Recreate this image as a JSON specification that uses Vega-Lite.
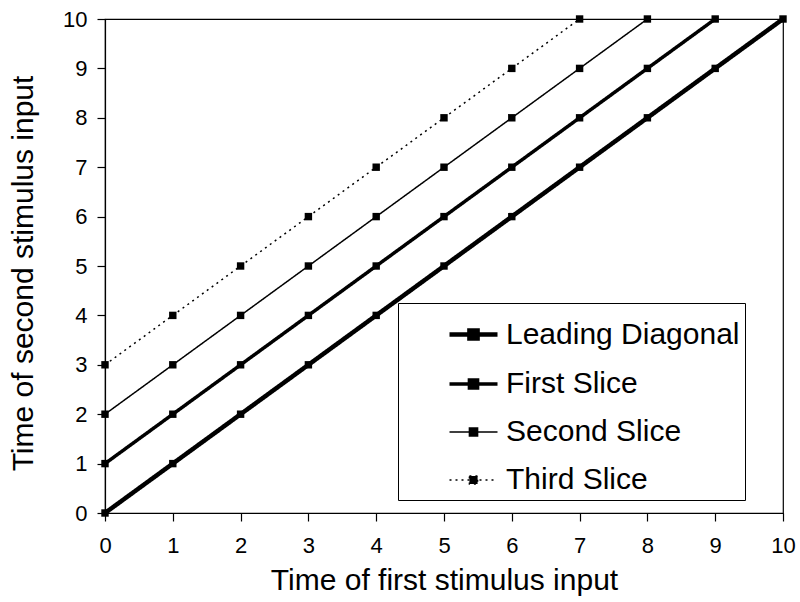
{
  "$schema": "https://vega.github.io/schema/vega-lite/v6.json",
  "width": 678,
  "height": 494,
  "autosize": "none",
  "padding": {"left": 105, "top": 19, "right": 17, "bottom": 89},
  "background": "white",
  "config": {
    "font": "Liberation Sans",
    "view": {"stroke": "black", "strokeWidth": 1.2},
    "axis": {
      "grid": false,
      "domainColor": "black",
      "domainWidth": 1.2,
      "tickColor": "black",
      "tickWidth": 1.2,
      "tickSize": 8,
      "labelColor": "black",
      "titleColor": "black",
      "labelFontSize": 22,
      "titleFontSize": 30,
      "titleFontWeight": "normal",
      "labelFont": "Liberation Sans",
      "titleFont": "Liberation Sans",
      "labelOverlap": false
    }
  },
  "data": {
    "values": [
      {"series": "Leading Diagonal", "x": 0, "y": 0},
      {"series": "Leading Diagonal", "x": 1, "y": 1},
      {"series": "Leading Diagonal", "x": 2, "y": 2},
      {"series": "Leading Diagonal", "x": 3, "y": 3},
      {"series": "Leading Diagonal", "x": 4, "y": 4},
      {"series": "Leading Diagonal", "x": 5, "y": 5},
      {"series": "Leading Diagonal", "x": 6, "y": 6},
      {"series": "Leading Diagonal", "x": 7, "y": 7},
      {"series": "Leading Diagonal", "x": 8, "y": 8},
      {"series": "Leading Diagonal", "x": 9, "y": 9},
      {"series": "Leading Diagonal", "x": 10, "y": 10},
      {"series": "First Slice", "x": 0, "y": 1},
      {"series": "First Slice", "x": 1, "y": 2},
      {"series": "First Slice", "x": 2, "y": 3},
      {"series": "First Slice", "x": 3, "y": 4},
      {"series": "First Slice", "x": 4, "y": 5},
      {"series": "First Slice", "x": 5, "y": 6},
      {"series": "First Slice", "x": 6, "y": 7},
      {"series": "First Slice", "x": 7, "y": 8},
      {"series": "First Slice", "x": 8, "y": 9},
      {"series": "First Slice", "x": 9, "y": 10},
      {"series": "Second Slice", "x": 0, "y": 2},
      {"series": "Second Slice", "x": 1, "y": 3},
      {"series": "Second Slice", "x": 2, "y": 4},
      {"series": "Second Slice", "x": 3, "y": 5},
      {"series": "Second Slice", "x": 4, "y": 6},
      {"series": "Second Slice", "x": 5, "y": 7},
      {"series": "Second Slice", "x": 6, "y": 8},
      {"series": "Second Slice", "x": 7, "y": 9},
      {"series": "Second Slice", "x": 8, "y": 10},
      {"series": "Third Slice", "x": 0, "y": 3},
      {"series": "Third Slice", "x": 1, "y": 4},
      {"series": "Third Slice", "x": 2, "y": 5},
      {"series": "Third Slice", "x": 3, "y": 6},
      {"series": "Third Slice", "x": 4, "y": 7},
      {"series": "Third Slice", "x": 5, "y": 8},
      {"series": "Third Slice", "x": 6, "y": 9},
      {"series": "Third Slice", "x": 7, "y": 10}
    ]
  },
  "encoding": {
    "x": {
      "field": "x",
      "type": "quantitative",
      "scale": {"domain": [0, 10], "nice": false},
      "axis": {"values": [0,1,2,3,4,5,6,7,8,9,10], "labelPadding": 14, "title": "Time of first stimulus input", "titlePadding": 9, "labelFlush": false}
    },
    "y": {
      "field": "y",
      "type": "quantitative",
      "scale": {"domain": [0, 10], "nice": false},
      "axis": {"values": [0,1,2,3,4,5,6,7,8,9,10], "labelPadding": 10, "title": "Time of second stimulus input", "titlePadding": 24, "titleY": 254, "labelFlush": false}
    }
  },
  "layer": [
    {
      "mark": {"type": "line", "color": "black", "strokeCap": "butt"},
      "encoding": {
        "detail": {"field": "series", "type": "nominal"},
        "strokeWidth": {
          "field": "series",
          "type": "nominal",
          "sort": ["Leading Diagonal", "First Slice", "Second Slice", "Third Slice"],
          "scale": {"type": "ordinal", "domain": ["Leading Diagonal", "First Slice", "Second Slice", "Third Slice"], "range": [4.5, 3.5, 1.5, 1.5]},
          "legend": null
        },
        "strokeDash": {
          "field": "series",
          "type": "nominal",
          "sort": ["Leading Diagonal", "First Slice", "Second Slice", "Third Slice"],
          "scale": {"domain": ["Leading Diagonal", "First Slice", "Second Slice", "Third Slice"], "range": [[1, 0], [1, 0], [1, 0], [2, 4]]},
          "legend": {
            "title": null,
            "orient": "none",
            "legendX": 293,
            "legendY": 284,
            "fillColor": "white",
            "strokeColor": "black",
            "padding": 5,
            "rowPadding": 8,
            "symbolType": "M-1,0H1M-0.17,-0.17H0.17V0.17H-0.17Z",
            "symbolSize": 2304,
            "symbolOffset": 44,
            "symbolStrokeColor": "black",
            "symbolFillColor": "black",
            "symbolStrokeWidth": 3,
            "labelOffset": 6,
            "labelFontSize": 30,
            "labelLimit": 1000,
            "labelFont": "Liberation Sans",
            "labelColor": "black",
            "labelExpr": "datum.label + '\u00a0\u00a0\u00a0\u00a0\u00a0'"
          }
        }
      }
    },
    {
      "mark": {"type": "point", "shape": "square", "filled": true, "color": "black", "size": 55, "opacity": 1},
      "encoding": {}
    }
  ]
}
